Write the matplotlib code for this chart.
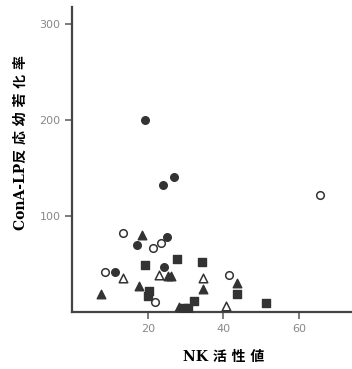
import matplotlib.pyplot as plt

# NK活性値 vs ConA-LP反応幼若化率
fc_x = [19.3, 23.9, 26.8, 25.2, 17.1, 24.4, 11.2]
fc_y = [200, 132, 141, 78, 70, 47, 42]

oc_x = [65.6, 13.5, 21.4, 23.6, 8.8, 41.4, 21.9]
oc_y = [122, 82, 67, 72, 42, 38, 10]

fs_x = [27.7, 19.3, 34.4, 20.2, 20.0, 43.5, 32.3, 51.2, 29.6, 30.6]
fs_y = [55, 49, 52, 22, 17, 19, 11, 9, 4, 4]

ft_x = [18.5, 7.7, 17.7, 26.2, 25.3, 34.7, 43.5, 28.2]
ft_y = [80, 19, 27, 37, 37, 24, 30, 5]

ot_x = [13.4, 23.0, 34.7, 40.7]
ot_y = [35, 38, 35, 6]

xticks = [20, 40, 60]
yticks = [100, 200, 300]

ink = '#333333'
fig = plt.figure(figsize=(3.52, 3.69), dpi=100)
ax = fig.add_axes([0.205, 0.155, 0.795, 0.826])

ax.scatter(fc_x, fc_y, s=30, marker='o', color=ink, zorder=3)
ax.scatter(oc_x, oc_y, s=30, marker='o', facecolor='white', edgecolor=ink, linewidth=1.1, zorder=3)
ax.scatter(fs_x, fs_y, s=26, marker='s', color=ink, zorder=3)
ax.scatter(ft_x, ft_y, s=38, marker='^', color=ink, zorder=3)
ax.scatter(ot_x, ot_y, s=38, marker='^', facecolor='white', edgecolor=ink, linewidth=1.1, zorder=3)

ax.set_xlim(0, 74)
ax.set_ylim(0, 318)
ax.set_xticks(xticks)
ax.set_yticks(yticks)
ax.spines['top'].set_visible(False)
ax.spines['right'].set_visible(False)
for s in ('left', 'bottom'):
    ax.spines[s].set_linewidth(1.6)
    ax.spines[s].set_color('#444444')
ax.tick_params(length=5, width=1.2, color='#666666', labelsize=8, labelcolor='#888888')
for lab in ax.get_xticklabels() + ax.get_yticklabels():
    lab.set_family('DejaVu Sans')

fam = ['DejaVu Serif', 'Noto Sans CJK JP']
ax.set_xlabel('NK 活 性 値', family=fam, fontsize=10, fontweight='bold')
ax.set_ylabel('ConA-LP反 応 幼 若 化 率', family=fam, fontsize=10, fontweight='bold')
ax.xaxis.set_label_coords(0.54, -0.125)
ax.yaxis.set_label_coords(-0.16, 0.555)

fig.savefig('out.png', dpi=100)
